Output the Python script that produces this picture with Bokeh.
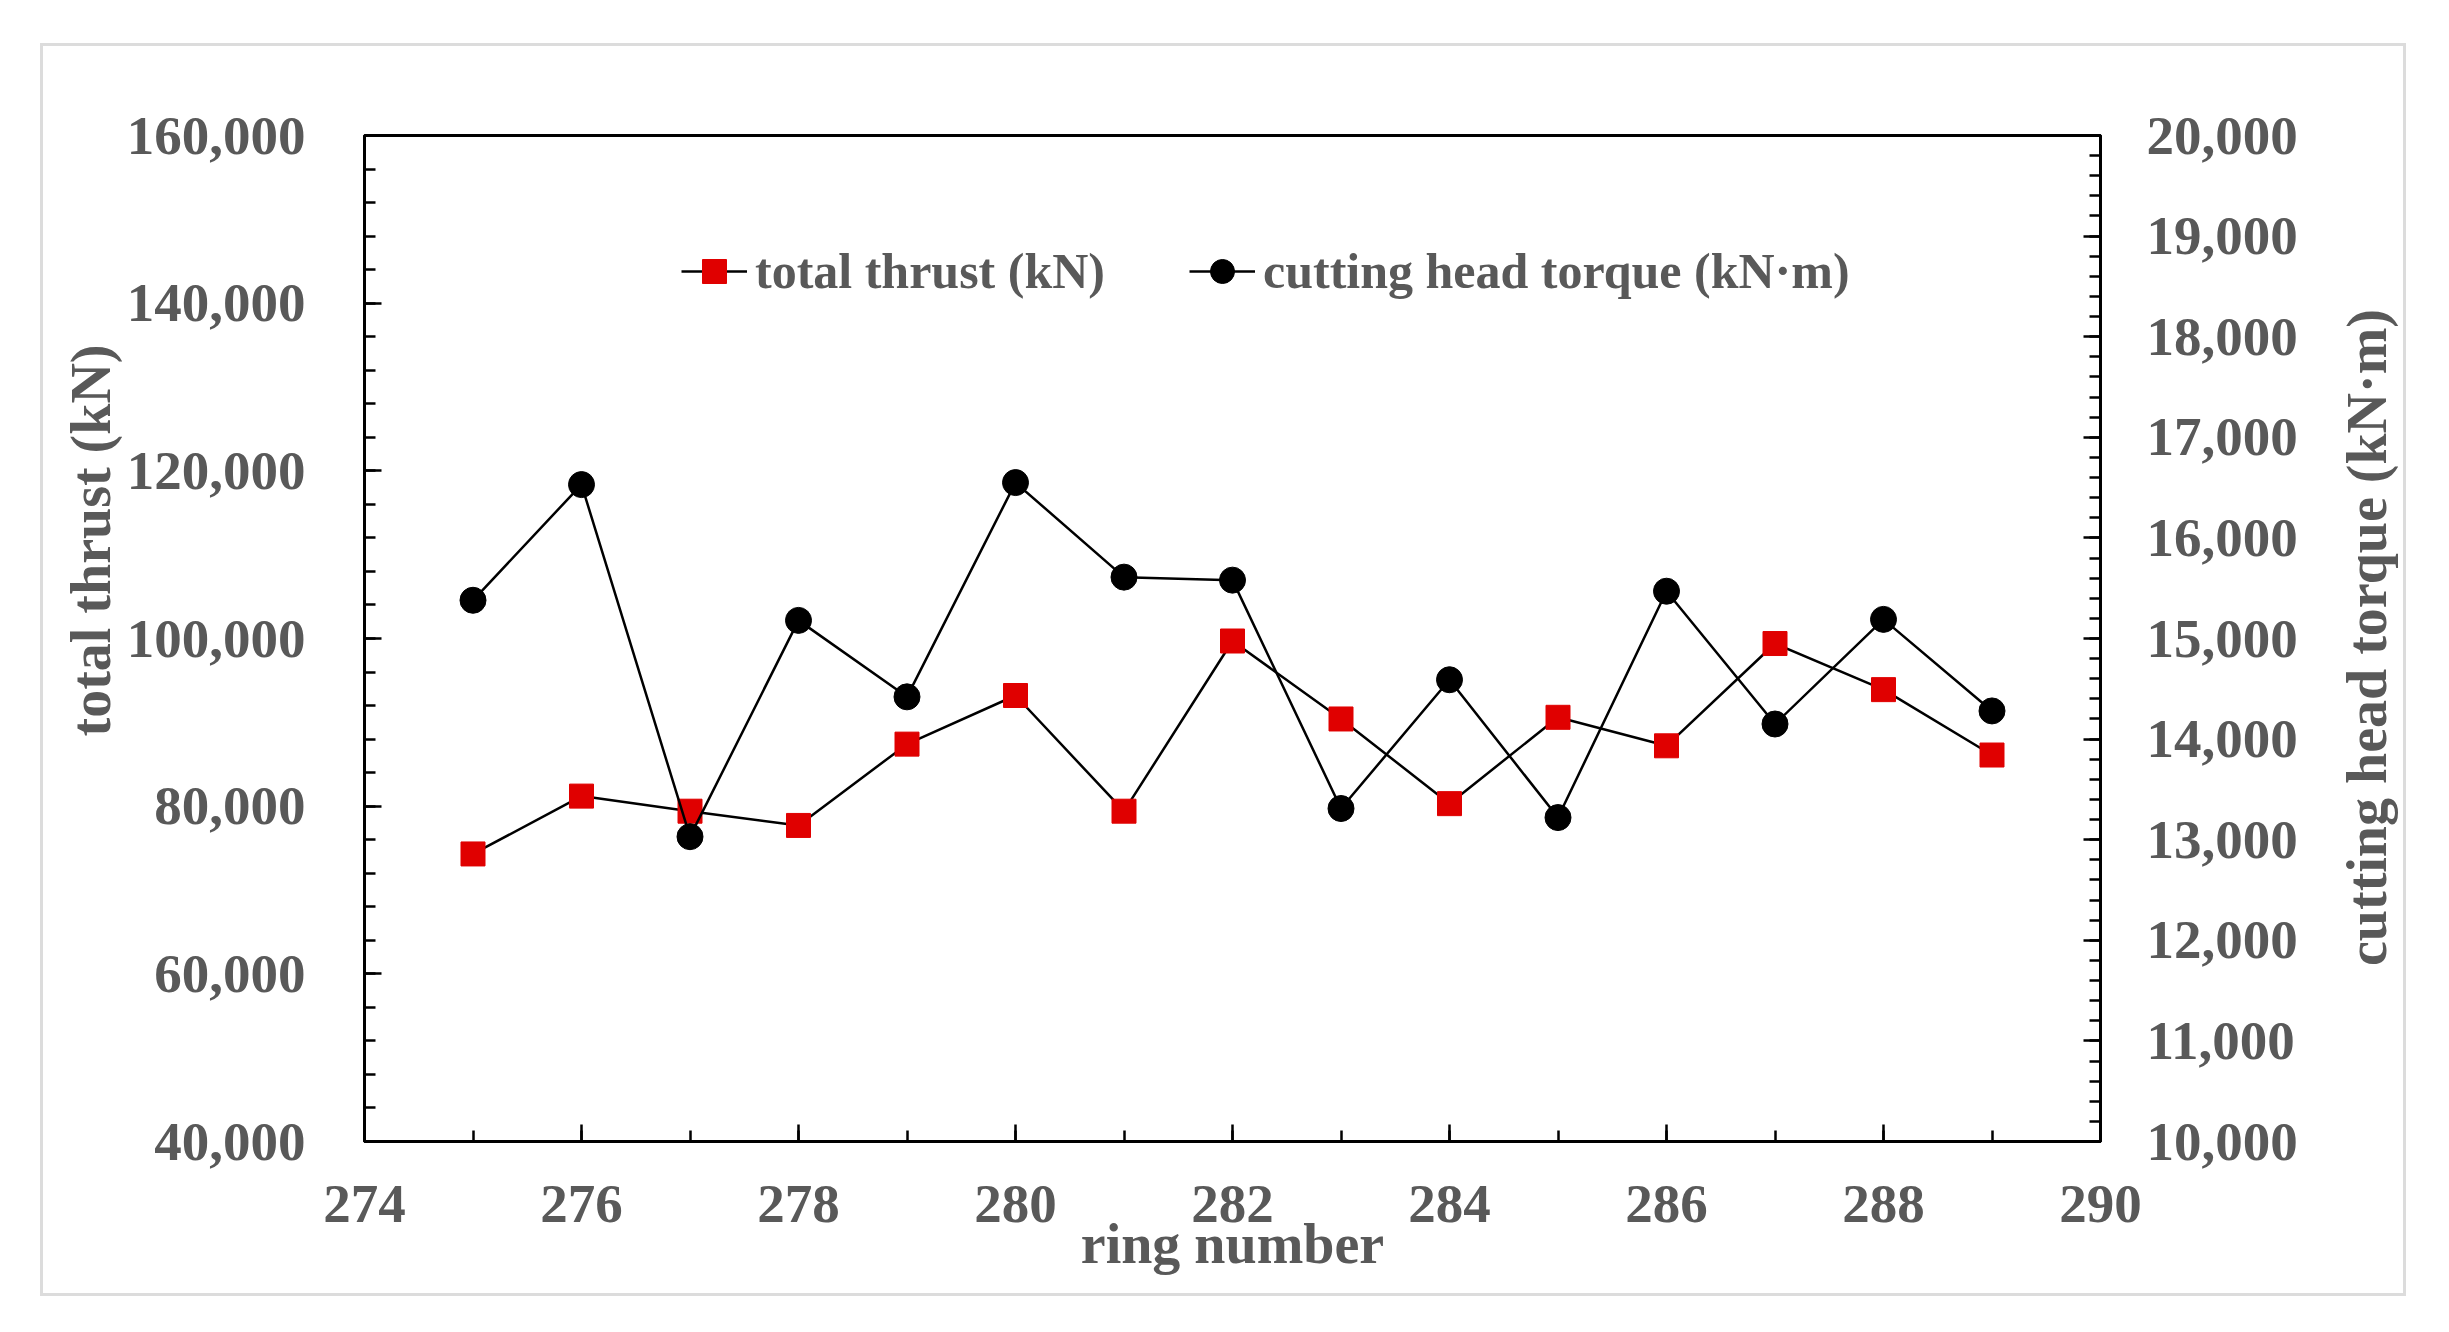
import math

from bokeh.embed import file_html
from bokeh.models import (FixedTicker, Label, Legend, LegendItem, LinearAxis,
                          NumeralTickFormatter, Range1d, Title)
from bokeh.plotting import figure
from bokeh.resources import INLINE

ring = [275, 276, 277, 278, 279, 280, 281, 282, 283, 284, 285, 286, 287, 288, 289]
thrust = [74300, 81200, 79400, 77700, 87400, 93200, 79400, 99700,
          90400, 80300, 90600, 87200, 99400, 93900, 86100]
torque = [15380, 16530, 13030, 15180, 14420, 16550, 15610, 15580,
          13310, 14590, 13220, 15470, 14150, 15190, 14280]

x_ticks = list(range(274, 291, 2))
x_minor = list(range(274, 291))
left_ticks = list(range(40000, 160001, 20000))
left_minor = list(range(40000, 160001, 4000))
right_ticks = list(range(10000, 20001, 1000))
right_minor = list(range(10000, 20001, 200))

FONT = "Liberation Serif"
GREY = "#595959"

p = figure(frame_width=1736, frame_height=1006,
           x_range=Range1d(274, 290), y_range=Range1d(40000, 160000),
           output_backend="svg", toolbar_location=None,
           min_border_left=321, min_border_right=303,
           min_border_top=89, min_border_bottom=152,
           margin=(43, 0, 0, 40),
           styles={"border": "3px solid #dcdcdc"})
p.extra_y_ranges = {"torque": Range1d(10000, 20000)}
p.xgrid.visible = False
p.ygrid.visible = False
p.outline_line_color = "black"
p.outline_line_width = 3
p.background_fill_color = "white"
p.border_fill_color = "white"


def style_axis(ax, ticks, minor, standoff):
    ax.ticker = FixedTicker(ticks=ticks, minor_ticks=minor)
    ax.axis_line_color = "black"
    ax.axis_line_width = 3
    ax.major_tick_line_width = 2.5
    ax.minor_tick_line_width = 2.5
    ax.major_tick_in = 17
    ax.major_tick_out = 0
    ax.minor_tick_in = 11
    ax.minor_tick_out = 0
    ax.major_label_text_font = FONT
    ax.major_label_text_font_style = "bold"
    ax.major_label_text_font_size = "55px"
    ax.major_label_text_color = GREY
    ax.major_label_standoff = standoff
    ax.axis_label_text_font = FONT
    ax.axis_label_text_font_style = "bold"
    ax.axis_label_text_font_size = "56px"
    ax.axis_label_text_color = GREY


xa = p.xaxis[0]
style_axis(xa, x_ticks, x_minor, 44)
xa.axis_label = "ring number"
xa.axis_label_standoff = -12

ya = p.yaxis[0]
style_axis(ya, left_ticks, left_minor, 59)
ya.formatter = NumeralTickFormatter(format="0,0")

ra = LinearAxis(y_range_name="torque")
style_axis(ra, right_ticks, right_minor, 46)
ra.formatter = NumeralTickFormatter(format="0,0")
p.add_layout(ra, "right")

left_title = Title(text="total thrust (kN)", align="left", offset=405,
                   text_font=FONT, text_font_style="bold",
                   text_font_size="56px", text_color=GREY, standoff=4)
p.add_layout(left_title, "left")

# right axis title, reading bottom to top, in the right side panel
right_title = Label(x=66, y=504, x_units="screen", y_units="screen",
                    text="cutting head torque (kN·m)", angle=math.pi / 2,
                    text_align="center", text_baseline="middle",
                    text_font=FONT, text_font_style="bold",
                    text_font_size="56px", text_color=GREY)
p.add_layout(right_title, "right")

# thrust: black line with red squares
l1 = p.line(ring, thrust, line_color="black", line_width=2.5)
s1 = p.scatter(ring, thrust, marker="square", size=24,
               fill_color="#e00000", line_color="#e00000")

# torque on the right axis
l2 = p.line(ring, torque, line_color="black", line_width=2.5,
            y_range_name="torque")
s2 = p.scatter(ring, torque, marker="circle", size=26,
               fill_color="black", line_color="black", y_range_name="torque")

legend = Legend(items=[LegendItem(label="total thrust (kN)", renderers=[l1, s1]),
                       LegendItem(label="cutting head torque (kN·m)", renderers=[l2, s2])],
                orientation="horizontal", location=(317, 840),
                glyph_width=66, glyph_height=60, label_height=60,
                label_standoff=8, spacing=84, padding=0, margin=0,
                border_line_alpha=0, background_fill_alpha=0,
                label_text_font=FONT, label_text_font_style="bold",
                label_text_font_size="50px", label_text_color=GREY)
p.add_layout(legend)

open("out.html", "w").write(file_html(p, INLINE))
